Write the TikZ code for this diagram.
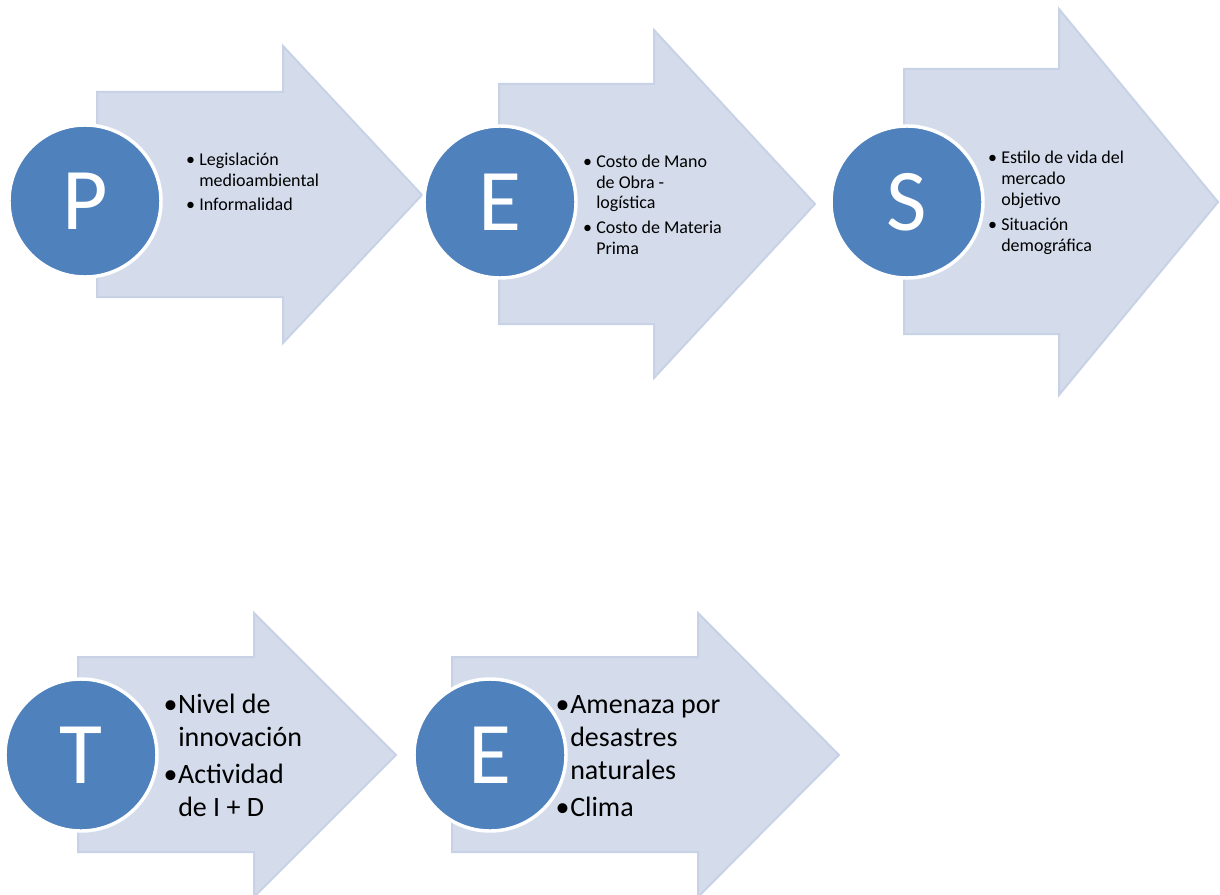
\documentclass[tikz,border=0pt]{standalone}
\usepackage{fontspec}
\setmainfont{Carlito}
\definecolor{arrowfill}{HTML}{D4DCEB}
\definecolor{arrowedge}{HTML}{C8D2E6}
\definecolor{circblue}{HTML}{4F81BD}
\tikzset{
  bigarrow/.style={fill=arrowfill, draw=arrowedge, line width=1.5pt, line join=miter},
  letter/.style={circle, fill=circblue, draw=white, line width=2.6pt, minimum size=114pt, inner sep=0pt,
     text=white, font=\fontsize{66}{70}\selectfont},
  smalltxt/.style={anchor=base west, inner sep=0pt, font=\fontsize{13.5}{15.75}\selectfont},
  bigtxt/.style={anchor=base west, inner sep=0pt, font=\fontsize{21}{24.75}\selectfont},
}
\newcommand{\sbul}{\llap{\textbullet\hspace{3.2pt}}}
\newcommand{\bbul}{\llap{\textbullet\hspace{0.5pt}}}
\begin{document}
\begin{tikzpicture}[x=0.75pt, y=-0.75pt]
\useasboundingbox (0,0) rectangle (1220,895);
% arrows
\draw[bigarrow] (97,92) -- (283,92) -- (283,46) -- (422,195) -- (283,343) -- (283,297) -- (97,297) -- cycle;
\draw[bigarrow] (499,84) -- (654,84) -- (654,30) -- (815,204) -- (654,378) -- (654,324) -- (499,324) -- cycle;
\draw[bigarrow] (904,69) -- (1059,69) -- (1059,9) -- (1218,202) -- (1059,395) -- (1059,334) -- (904,334) -- cycle;
\draw[bigarrow] (78,657) -- (254,657) -- (254,613) -- (396,755) -- (254,897) -- (254,852) -- (78,852) -- cycle;
\draw[bigarrow] (452,657) -- (698,657) -- (698,613) -- (839,755) -- (698,897) -- (698,852) -- (452,852) -- cycle;
% circles
\node[letter] (p) at (85,201) {P};
\node[letter] (e1) at (500,202) {E};
\node[letter] (s) at (907,202) {S};
\node[letter] (t) at (81,755) {T};
\node[letter] (e2) at (490,755) {E};
% texts
\node[smalltxt] (tp) at (199,166) {\begin{tabular}[t]{@{}l@{}}\sbul Legislación\\ medioambiental\\[2.2pt] \sbul Informalidad\end{tabular}};
\node[smalltxt] (te1) at (596,167) {\begin{tabular}[t]{@{}l@{}}\sbul Costo de Mano\\ de Obra -\\ logística\\[3pt] \sbul Costo de Materia\\ Prima\end{tabular}};
\node[smalltxt] (ts) at (1001,164) {\begin{tabular}[t]{@{}l@{}}\sbul Estilo de vida del\\ mercado\\ objetivo\\[3pt] \sbul Situación\\ demográfica\end{tabular}};
\node[bigtxt] (tt) at (178,713) {\begin{tabular}[t]{@{}l@{}}\bbul Nivel de\\ innovación\\[3pt] \bbul Actividad\\ de I + D\end{tabular}};
\node[bigtxt] (te2) at (570,713) {\begin{tabular}[t]{@{}l@{}}\bbul Amenaza por\\ desastres\\ naturales\\[3pt] \bbul Clima\end{tabular}};
\end{tikzpicture}
\end{document}
